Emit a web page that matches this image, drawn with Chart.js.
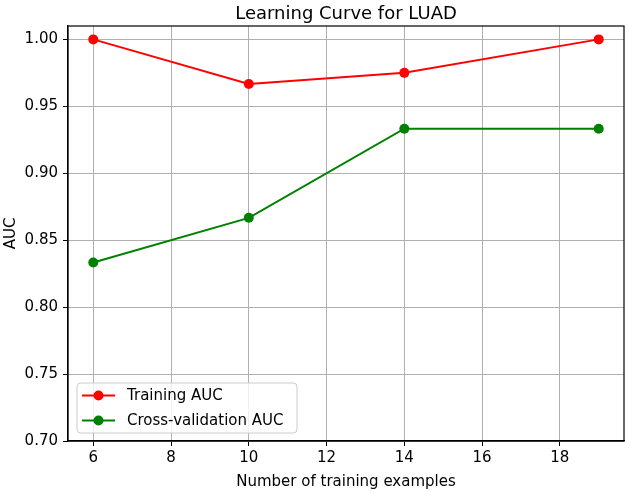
<!DOCTYPE html>
<html>
<head>
<meta charset="utf-8">
<script src="https://cdn.jsdelivr.net/npm/chart.js@4/dist/chart.umd.min.js"></script>
<style>
html,body{margin:0;padding:0;background:#fff;}
#c{display:block;}
</style>
</head>
<body>
<canvas id="c" width="630" height="492"></canvas>
<script>
const trainSizes = [6, 10, 14, 19];
const trainingAUC = [1.0, 0.9667, 0.975, 1.0];
const cvAUC = [0.8333, 0.8667, 0.9333, 0.9333];
const xTicks = [6, 8, 10, 12, 14, 16, 18];
const yTicks = [0.70, 0.75, 0.80, 0.85, 0.90, 0.95, 1.00];
const titleText = 'Learning Curve for LUAD';
const xLabel = 'Number of training examples';
const yLabel = 'AUC';
const seriesLabels = ['Training AUC', 'Cross-validation AUC'];

const FONT = '"DejaVu Sans", sans-serif';

const decor = {
  id: 'decor',
  afterDraw(chart) {
    const ctx = chart.ctx;
    const a = chart.chartArea;
    ctx.save();
    // top/right spines
    ctx.strokeStyle = '#000';
    ctx.lineWidth = 1.2;
    ctx.strokeRect(a.left, a.top, a.right - a.left, a.bottom - a.top);
    // title
    ctx.fillStyle = '#000';
    ctx.font = '18px ' + FONT;
    ctx.textAlign = 'center';
    ctx.textBaseline = 'alphabetic';
    const cx = (a.left + a.right) / 2;
    ctx.fillText(titleText, cx, 19);
    // x label
    ctx.font = '15px ' + FONT;
    ctx.fillText(xLabel, cx, 486);
    // y label
    ctx.save();
    ctx.translate(15, (a.top + a.bottom) / 2);
    ctx.rotate(-Math.PI / 2);
    ctx.fillText(yLabel, 0, 0);
    ctx.restore();
    // legend
    const lx = 77, ly = 383, lw = 220, lh = 50, r = 4;
    ctx.beginPath();
    ctx.moveTo(lx + r, ly);
    ctx.arcTo(lx + lw, ly, lx + lw, ly + lh, r);
    ctx.arcTo(lx + lw, ly + lh, lx, ly + lh, r);
    ctx.arcTo(lx, ly + lh, lx, ly, r);
    ctx.arcTo(lx, ly, lx + lw, ly, r);
    ctx.closePath();
    ctx.fillStyle = 'rgba(255,255,255,0.8)';
    ctx.fill();
    ctx.strokeStyle = '#cccccc';
    ctx.lineWidth = 1;
    ctx.stroke();
    const rows = [395.5, 420.5];
    chart.data.datasets.forEach((ds, i) => {
      const y = rows[i];
      ctx.strokeStyle = ds.borderColor;
      ctx.lineWidth = 2;
      ctx.beginPath();
      ctx.moveTo(82, y);
      ctx.lineTo(115, y);
      ctx.stroke();
      ctx.fillStyle = ds.pointBackgroundColor;
      ctx.beginPath();
      ctx.arc(98.5, y, 5, 0, Math.PI * 2);
      ctx.fill();
      ctx.fillStyle = '#000';
      ctx.font = '15px ' + FONT;
      ctx.textAlign = 'left';
      ctx.textBaseline = 'middle';
      ctx.fillText(ds.label, 127, y + 1);
    });
    ctx.restore();
  }
};

const mkData = (vals) => trainSizes.map((x, i) => ({x: x, y: vals[i]}));

new Chart(document.getElementById('c'), {
  type: 'line',
  data: {
    datasets: [
      {label: seriesLabels[0], data: mkData(trainingAUC), borderColor: '#ff0000', backgroundColor: '#ff0000',
       pointBackgroundColor: '#ff0000', pointBorderColor: '#ff0000', borderWidth: 2, pointRadius: 5, pointBorderWidth: 0, tension: 0, clip: false},
      {label: seriesLabels[1], data: mkData(cvAUC), borderColor: '#008000', backgroundColor: '#008000',
       pointBackgroundColor: '#008000', pointBorderColor: '#008000', borderWidth: 2, pointRadius: 5, pointBorderWidth: 0, tension: 0, clip: false}
    ]
  },
  options: {
    responsive: false,
    devicePixelRatio: 1,
    animation: false,
    layout: {padding: {top: 26, right: 6, left: 0, bottom: 0}},
    plugins: {legend: {display: false}, title: {display: false}, tooltip: {enabled: false}},
    scales: {
      x: {
        type: 'linear', min: 5.35, max: 19.65,
        afterBuildTicks: (s) => { s.ticks = xTicks.map(v => ({value: v})); },
        afterFit: (s) => { s.height = 51; },
        grid: {color: '#b0b0b0', lineWidth: 1, tickColor: '#000', tickLength: 5, drawTicks: true},
        border: {display: true, color: '#000', width: 1.2},
        ticks: {color: '#000', font: {family: FONT, size: 15}, padding: 3, maxRotation: 0, autoSkip: false,
                callback: (v) => String(v)}
      },
      y: {
        type: 'linear', min: 0.70, max: 1.01,
        afterBuildTicks: (s) => { s.ticks = yTicks.map(v => ({value: v})); },
        afterFit: (s) => { s.width = 68; },
        grid: {color: '#b0b0b0', lineWidth: 1, tickColor: '#000', tickLength: 5, drawTicks: true},
        border: {display: true, color: '#000', width: 1.2},
        ticks: {color: '#000', font: {family: FONT, size: 15}, padding: 5, autoSkip: false,
                callback: (v) => Number(v).toFixed(2)}
      }
    }
  },
  plugins: [decor]
});
</script>
</body>
</html>
